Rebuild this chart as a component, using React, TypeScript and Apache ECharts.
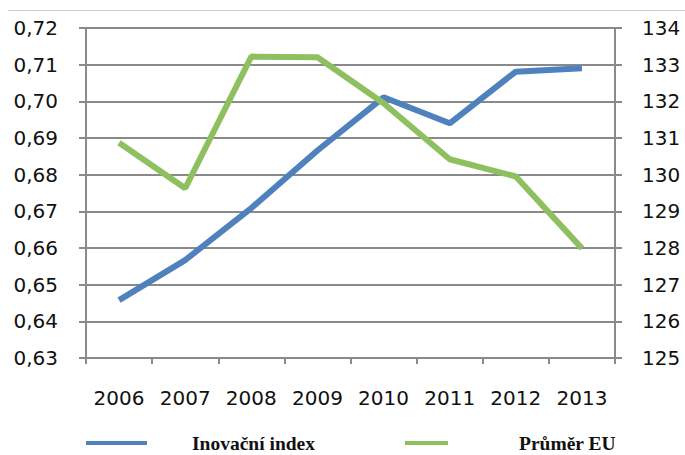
import React, { useEffect, useRef } from "react";
import * as echarts from "echarts";

const years = ["2006", "2007", "2008", "2009", "2010", "2011", "2012", "2013"];
const innovationIndex = [0.6458, 0.6567, 0.6709, 0.6866, 0.7011, 0.694, 0.7081, 0.709];
const euAverage = [130.87, 129.63, 133.22, 133.2, 131.95, 130.42, 129.95, 127.99];
const seriesNames = ["Inovační index", "Průměr EU"];

const BLUE = "#4f81bd";
const GREEN = "#8fc060";
const GRID_GRAY = "#8a8a8a";
const LABEL_FONT = "DejaVu Sans";
const LEGEND_FONT = "Liberation Serif";

export default function App() {
  const ref = useRef<HTMLDivElement>(null);

  useEffect(() => {
    if (!ref.current) return;
    const chart = echarts.init(ref.current, null, { renderer: "svg" });
    const legendText = {
      fontFamily: LEGEND_FONT,
      fontWeight: "bold",
      fontSize: 19.5,
      lineHeight: 20,
      color: "#111",
    };
    chart.setOption({
      animation: false,
      backgroundColor: "#ffffff",
      grid: { left: 86, right: 70, top: 28, bottom: 97 },
      xAxis: {
        type: "category",
        data: years,
        boundaryGap: true,
        axisLine: { show: true, lineStyle: { color: GRID_GRAY, width: 2 } },
        axisTick: { show: true, length: 6, lineStyle: { color: GRID_GRAY, width: 2 } },
        axisLabel: {
          show: true,
          interval: 0,
          margin: 30,
          color: "#111",
          fontFamily: LABEL_FONT,
          fontSize: 20,
        },
        splitLine: { show: false },
      },
      yAxis: [
        {
          type: "value",
          position: "left",
          min: 0.63,
          max: 0.72,
          interval: 0.01,
          axisLine: { show: true, lineStyle: { color: GRID_GRAY, width: 2 } },
          axisTick: { show: true, length: 7, lineStyle: { color: GRID_GRAY, width: 2 } },
          axisLabel: {
            margin: 28,
            color: "#111",
            fontFamily: LABEL_FONT,
            fontSize: 20,
            formatter: (v: number) => v.toFixed(2).replace(".", ","),
          },
          splitLine: { show: true, lineStyle: { color: GRID_GRAY, width: 2 } },
        },
        {
          type: "value",
          position: "right",
          min: 125,
          max: 134,
          interval: 1,
          axisLine: { show: true, lineStyle: { color: GRID_GRAY, width: 2 } },
          axisTick: { show: true, length: 7, lineStyle: { color: GRID_GRAY, width: 2 } },
          axisLabel: {
            margin: 27,
            color: "#111",
            fontFamily: LABEL_FONT,
            fontSize: 20,
          },
          splitLine: { show: false },
        },
      ],
      legend: [
        {
          data: [{ name: seriesNames[0], icon: "rect" }],
          left: 81,
          top: 428,
          itemWidth: 61,
          itemHeight: 4,
          textStyle: { ...legendText, padding: [0, 0, 0, 40] },
        },
        {
          data: [{ name: seriesNames[1], icon: "rect" }],
          left: 400,
          top: 428,
          itemWidth: 43,
          itemHeight: 4,
          textStyle: { ...legendText, padding: [0, 0, 0, 66] },
        },
      ],
      graphic: [
        {
          type: "line",
          shape: { x1: 8, y1: 10.5, x2: 685, y2: 10.5 },
          style: { stroke: "#cccccc", lineWidth: 1 },
        },
      ],
      series: [
        {
          name: seriesNames[0],
          type: "line",
          yAxisIndex: 0,
          data: innovationIndex,
          symbol: "none",
          color: BLUE,
          lineStyle: { color: BLUE, width: 6 },
        },
        {
          name: seriesNames[1],
          type: "line",
          yAxisIndex: 1,
          data: euAverage,
          symbol: "none",
          color: GREEN,
          lineStyle: { color: GREEN, width: 6 },
        },
      ],
    });
    return () => chart.dispose();
  }, []);

  return (
    <div
      ref={ref}
      style={{ position: "fixed", left: 0, top: 0, width: 685, height: 455, background: "#fff" }}
    />
  );
}
